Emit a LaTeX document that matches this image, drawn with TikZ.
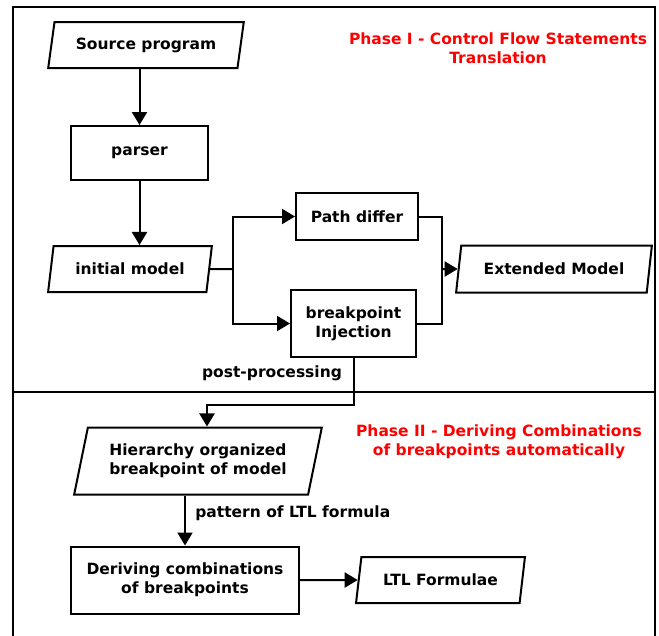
\documentclass[tikz,border=0pt]{standalone}
\usepackage{fontspec}
\setmainfont{DejaVu Sans}
\usetikzlibrary{arrows.meta,
                calc,
                shapes.geometric,
                positioning
                }

\begin{document}
\begin{tikzpicture}[x=1pt, y=-1pt,
    font = \bfseries\fontsize{15.5}{19}\selectfont,
   every path/.style = {line width=2pt},
    BX/.style = {draw, rectangle, align=center, inner sep=0pt,
                 minimum width=#1},
    IO/.style = {draw, trapezium, trapezium left angle=72,
                 trapezium right angle=108, trapezium stretches=true,
                 align=center, inner sep=0pt, minimum width=#1},
    AR/.style = {-{Triangle[length=13pt, width=15pt]}},
    PH/.style = {text=red, align=center},
                        ]
\useasboundingbox (0,0) rectangle (659,635);
% frame of the two phases
\draw   (13,645) -- (13,7) -- (655,7) -- (655,645);
\draw   (13,392) -- (655,392);
% phase I
\node[IO=196, minimum height=46pt]  (src)    at (146,45)    {Source program};
\node[BX=137, minimum height=54pt]  (parser) at (139.5,153) {parser};
\node[IO=164, minimum height=46pt]  (init)   at (130,269)   {initial model};
\node[BX=122, minimum height=47pt]  (pd)     at (357,216.5) {Path differ};
\node[BX=125, minimum height=67pt]  (bi)     at (353.5,323.5) {breakpoint\\ Injection};
\node[IO=196, minimum height=47pt]  (ext)    at (554,269)   {Extended Model};
\node[PH]   (ph1) at (498,48.5) {Phase I - Control Flow Statements\\ Translation};
%
\coordinate (fork) at (233,269);
\coordinate (join) at (442,269);
\draw[AR]   (src.south -| parser.north) -- (parser.north);
\draw[AR]   (parser.south) -- (parser.south |- init.north);
\draw       (init.east) -- (fork);
\draw[AR]   (fork) |- (pd.west);
\draw[AR]   (fork) |- (bi.west);
\draw       (pd.east) -| (join);
\draw       (bi.east) -| (join);
\draw[AR]   (join) -- (ext.west);
% phase II
\node[IO=248, minimum height=67pt]  (hier)   at (198,461)   {Hierarchy organized\\ breakpoint of model};
\node[BX=228, minimum height=67pt]  (der)    at (185,580)   {Deriving combinations\\ of breakpoints};
\node[IO=169, minimum height=46pt]  (ltl)    at (440.5,580) {LTL Formulae};
\node[PH]   (ph2) at (499,441.5) {Phase II - Deriving Combinations\\ of breakpoints automatically};
\node       (pp)  at (272,373)  {post-processing};
%
\coordinate (turn) at (207,405);
\draw[AR]   (bi.south) |- (turn) -- (turn |- hier.north);
\draw[AR]   (hier.south -| der.north) --
                node[right=6pt, yshift=7pt, anchor=west] (pat) {pattern of LTL formula}
            (der.north);
\draw[AR]   (der.east) -- (ltl.west);
\end{tikzpicture}
\end{document}
